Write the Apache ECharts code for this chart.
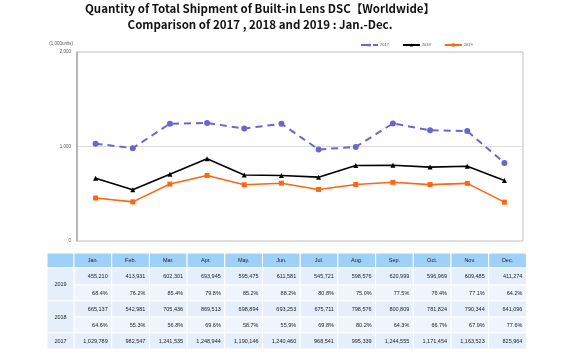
<!DOCTYPE html>
<html>
<head>
<meta charset="utf-8">
<script src="https://cdn.jsdelivr.net/npm/echarts@6/dist/echarts.min.js"></script>
<style>
  html, body { margin: 0; padding: 0; background: #fff; }
  #main { width: 573px; height: 352px; }
</style>
</head>
<body>
<div id="main"></div>
<script>
// 月份
var months = ["Jan.", "Feb.", "Mar.", "Apr.", "May.", "Jun.", "Jul.", "Aug.", "Sep.", "Oct.", "Nov.", "Dec."];
// 出荷台数（台）
var data2017 = [1029789, 982547, 1241535, 1248944, 1190146, 1240460, 968541, 995339, 1244555, 1171454, 1163523, 825964];
var data2018 = [665137, 542981, 705436, 869513, 698894, 693253, 675711, 798576, 800809, 781824, 790344, 641096];
var data2019 = [455210, 413931, 602301, 693945, 595475, 611581, 545721, 598576, 620999, 596969, 609485, 411274];
// 前年比（%）
var ratio2018 = ["64.6%", "55.3%", "56.8%", "69.6%", "58.7%", "55.9%", "69.8%", "80.2%", "64.3%", "66.7%", "67.9%", "77.6%"];
var ratio2019 = ["68.4%", "76.2%", "85.4%", "79.8%", "85.2%", "88.2%", "80.8%", "75.0%", "77.5%", "76.4%", "77.1%", "64.2%"];
var yTicks = [0, 1000, 2000];

function fmt(n) {
  return n.toString().replace(/\B(?=(\d{3})+(?!\d))/g, ",");
}
function toK(arr) {
  return arr.map(function (v) { return v / 1000; });
}

var chart = echarts.init(document.getElementById("main"));

// 表（graphic で描く）
var tblLeft = 47, labelW = 27, colW = 37.7, headH = 15;
var rowTop = [268, 285, 301, 317, 333], rowH = [17, 16, 16, 16, 16];
var graphics = [];
function cell(x, y, w, h, fill) {
  graphics.push({ type: "rect", shape: { x: x, y: y, width: w, height: h },
    style: { fill: fill, stroke: "#fff", lineWidth: 1 }, silent: true });
}
function txt(x, y, s, align) {
  graphics.push({ type: "text", x: x, y: y, silent: true,
    style: { text: s, fill: "#222", font: "5.5px 'Liberation Sans', Arial", align: align || "right", verticalAlign: "middle" } });
}
// ヘッダー
cell(tblLeft, 253, labelW, headH, "#9fd0f7");
months.forEach(function (m, i) {
  var x = tblLeft + labelW + i * colW;
  cell(x, 253, colW, headH, "#9fd0f7");
  txt(x + colW / 2, 253 + headH / 2, m, "center");
});
var rows = [
  { vals: data2019.map(fmt), fill: "#e4effb" },
  { vals: ratio2019, fill: "#eff5fd" },
  { vals: data2018.map(fmt), fill: "#e4effb" },
  { vals: ratio2018, fill: "#eff5fd" },
  { vals: data2017.map(fmt), fill: "#e4effb" }
];
rows.forEach(function (r, ri) {
  r.vals.forEach(function (v, i) {
    var x = tblLeft + labelW + i * colW;
    cell(x, rowTop[ri], colW, rowH[ri], r.fill);
    txt(x + colW - 4, rowTop[ri] + rowH[ri] / 2, v, "right");
  });
});
// 年ラベル
[["2019", 0, 2], ["2018", 2, 2], ["2017", 4, 1]].forEach(function (g) {
  var y = rowTop[g[1]];
  var h = 0;
  for (var k = 0; k < g[2]; k++) h += rowH[g[1] + k];
  cell(tblLeft, y, labelW, h, "#e4effb");
  txt(tblLeft + labelW / 2, y + h / 2, g[0], "center");
});

chart.setOption({
  animation: false,
  title: {
    text: "Quantity of Total Shipment of Built-in Lens DSC【Worldwide】\nComparison of 2017 , 2018 and 2019 : Jan.-Dec.",
    left: 260,
    textAlign: "center",
    top: 1,
    padding: 0,
    textStyle: {
      fontFamily: "'Noto Sans CJK JP', 'DejaVu Sans'",
      fontSize: 11.5,
      fontWeight: "bold",
      color: "#111",
      lineHeight: 16
    }
  },
  legend: {
    top: 38,
    left: 355,
    itemWidth: 17,
    itemHeight: 4,
    itemGap: 13,
    textStyle: { fontSize: 4, color: "#555", padding: [0, 0, 0, -3] },
    data: ["2017", "2018", "2019"]
  },
  grid: {
    left: 77, right: 50, top: 52, bottom: 111,
    show: true, borderColor: "#c0c0c0", borderWidth: 1
  },
  xAxis: {
    type: "category",
    data: months,
    boundaryGap: true,
    axisLine: { show: false },
    axisTick: { show: false },
    axisLabel: { show: false }
  },
  yAxis: {
    type: "value",
    min: yTicks[0],
    max: yTicks[yTicks.length - 1],
    interval: 1000,
    name: "(1,000units)",
    nameGap: 6,
    nameTextStyle: { fontSize: 4.5, color: "#555", align: "right", padding: [0, 4, 0, 0] },
    axisLine: { show: true, lineStyle: { color: "#a8a8a8", width: 1.5 } },
    axisTick: { show: false },
    axisLabel: {
      fontSize: 4.5, color: "#555", margin: 6,
      formatter: function (v) { return fmt(v); }
    },
    splitLine: { show: true, lineStyle: { color: "#dcdcdc", width: 1 } }
  },
  series: [
    {
      name: "2017",
      type: "line",
      data: toK(data2017),
      symbol: "circle",
      symbolSize: 6,
      itemStyle: { color: "#6a66cc" },
      lineStyle: { color: "#6a66cc", width: 2, type: [7, 5] }
    },
    {
      name: "2018",
      type: "line",
      data: toK(data2018),
      symbol: "triangle",
      symbolSize: 5,
      itemStyle: { color: "#000" },
      lineStyle: { color: "#000", width: 1.6 }
    },
    {
      name: "2019",
      type: "line",
      data: toK(data2019),
      symbol: "rect",
      symbolSize: 5,
      itemStyle: { color: "#ff6611" },
      lineStyle: { color: "#ff6611", width: 1.6 }
    }
  ],
  graphic: graphics
});
</script>
</body>
</html>
